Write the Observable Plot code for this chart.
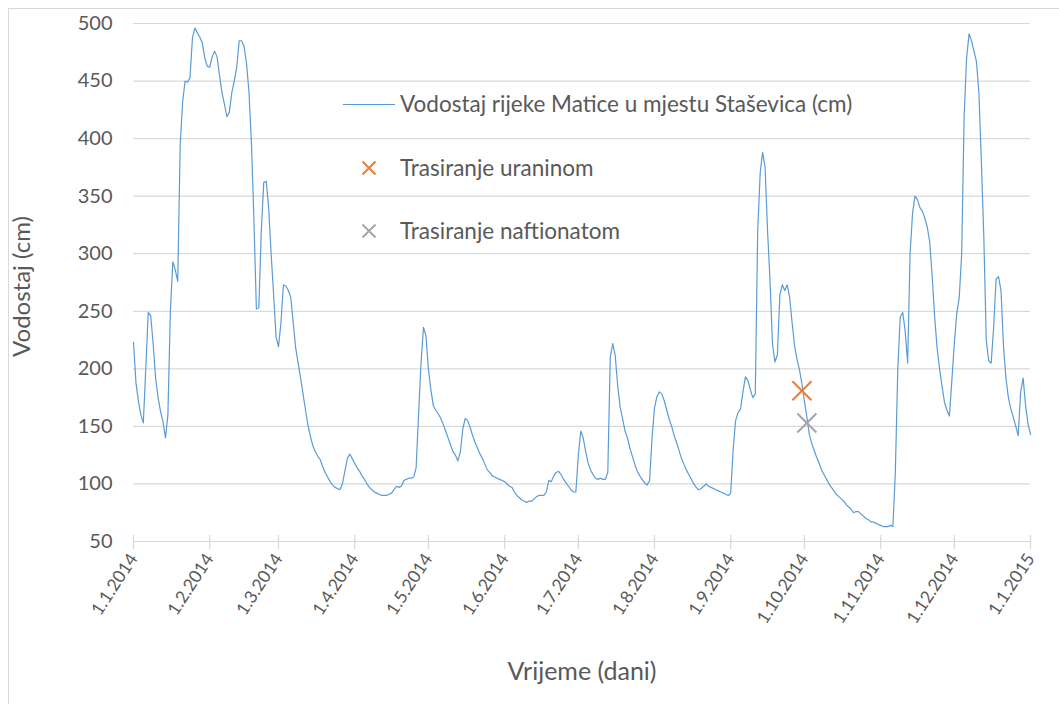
<!DOCTYPE html>
<html>
<head>
<meta charset="utf-8">
<script src="https://cdn.jsdelivr.net/npm/d3@7"></script>
<script src="https://cdn.jsdelivr.net/npm/@observablehq/plot@0.6"></script>
<style>
  html, body { margin: 0; padding: 0; background: #fff; overflow: hidden; }
  #wrap { position: relative; width: 1059px; height: 704px; overflow: hidden; font-family: Lato, "Open Sans", sans-serif; }
  #frame { position: absolute; left: 8px; top: 8px; width: 1100px; height: 800px; border: 1px solid #d9d9d9; box-sizing: border-box; }
  #chart { position: absolute; left: 0; top: 0; }
  #legend { position: absolute; left: 0; top: 0; pointer-events: none; }
</style>
</head>
<body>
<div id="wrap">
  <div id="frame"></div>
  <div id="chart"></div>
  <svg id="legend" width="1059" height="704"></svg>
</div>
<script>
// Daily water level (cm), river Matica at Staševica, 2014 — one array per month
const jan = [223,188,172,160,153,200,249,246,222,192,175,163,154,140,160,250,293,286,276,395,432,450,449,453,488,496,492,488,483,470,463];
const feb = [462,471,476,471,455,440,430,419,423,440,450,462,485,485,480,465,440,395,330,252,253,320,362,363,340,300,265,228];
const mar = [219,240,273,272,268,262,240,218,205,192,178,164,151,141,133,128,124,121,115,110,106,102,99,97,96,95,100,111,122,126,122];
const apr = [118,114,111,107,104,100,97,95,93,92,91,90,90,90,91,92,95,98,97,98,103,104,105,105,106,114,160,205,236,229];
const may = [200,182,168,164,161,157,152,146,140,134,128,125,120,128,148,157,155,149,142,136,131,126,122,117,112,110,107,106,105,104,103];
const jun = [102,100,98,97,93,90,88,86,85,84,85,85,87,89,90,90,90,93,103,102,107,110,111,108,104,101,98,95,93,93];
const jul = [125,146,140,128,118,112,108,105,104,105,104,104,110,210,222,212,186,167,157,146,140,131,124,117,111,107,104,101,99,103,140];
const aug = [166,176,180,178,172,164,156,150,142,136,129,122,117,112,108,104,100,97,95,96,98,100,98,97,96,95,94,93,92,91,90];
const sep = [92,130,155,162,165,180,193,190,182,175,178,320,370,388,375,320,277,222,206,212,264,273,268,273,262,240,220,208,199,187];
const oct = [172,158,143,135,129,123,118,112,108,104,100,97,94,91,89,87,85,82,80,78,75,76,76,74,72,70,69,67,67,66,65];
const nov = [64,63,63,63,64,63,110,200,245,249,233,205,300,335,350,347,340,337,331,323,310,280,245,218,200,185,171,164,159,190];
const dec = [222,248,262,300,420,470,491,485,476,467,440,380,315,225,207,205,236,278,280,268,220,192,175,165,158,150,142,180,192,168,152];
const jan2015 = [143];

// Tracer injections
const tracerNames = ["Trasiranje uraninom", "Trasiranje naftionatom"];
const tracerDates = ["2014-09-30", "2014-10-02"];
const tracerValues = [181, 153];
const tracerColors = ["#ed7d31", "#a5a5a5"];

const seriesName = "Vodostaj rijeke Matice u mjestu Staševica (cm)";
const yTicks = [50,100,150,200,250,300,350,400,450,500];
const monthTickDates = ["2014-01-01","2014-02-01","2014-03-01","2014-04-01","2014-05-01","2014-06-01","2014-07-01","2014-08-01","2014-09-01","2014-10-01","2014-11-01","2014-12-01","2015-01-01"];

// Build table
const monthBlocks = [[2014,0,jan],[2014,1,feb],[2014,2,mar],[2014,3,apr],[2014,4,may],[2014,5,jun],[2014,6,jul],[2014,7,aug],[2014,8,sep],[2014,9,oct],[2014,10,nov],[2014,11,dec],[2015,0,jan2015]];
const series = [];
for (const [yr, m, arr] of monthBlocks) arr.forEach((v, i) => series.push({date: new Date(Date.UTC(yr, m, i + 1)), value: v}));
const tracers = tracerNames.map((n, i) => ({name: n, date: new Date(tracerDates[i] + "T00:00:00Z"), value: tracerValues[i], color: tracerColors[i]}));
const monthTicks = monthTickDates.map(s => new Date(s + "T00:00:00Z"));
const fmt = d => `${d.getUTCDate()}.${d.getUTCMonth() + 1}.${d.getUTCFullYear()}`;

const textColor = "#595959";
const gridColor = "#d9d9d9";

const chart = Plot.plot({
  width: 1059,
  height: 704,
  marginLeft: 133,
  marginRight: 29,
  marginTop: 23,
  marginBottom: 163,
  style: {fontFamily: "Lato, 'Open Sans', sans-serif", color: textColor, background: "transparent", overflow: "visible"},
  x: {type: "utc", domain: [monthTicks[0], monthTicks[monthTicks.length - 1]]},
  y: {domain: [50, 500]},
  marks: [
    Plot.gridY(yTicks, {stroke: gridColor, strokeOpacity: 1, strokeWidth: 1.2}),
    Plot.axisY(yTicks, {tickSize: 0, tickPadding: 21, fontSize: 20, label: null}),
    Plot.axisX(monthTicks, {tickSize: 14, dy: -6, stroke: gridColor, strokeOpacity: 1, strokeWidth: 1.3, tickFormat: () => "", label: null}),
    Plot.axisX(monthTicks, {tickSize: 0, tickPadding: 14, tickRotate: -57, fontSize: 17.5, tickFormat: fmt, label: null}),
    Plot.line(series, {x: "date", y: "value", stroke: "#5b9bd5", strokeWidth: 1.2}),
    Plot.dot(tracers, {x: "date", y: "value", symbol: "times", r: 8.7, stroke: "color", strokeWidth: 2}),
    Plot.text(["Vodostaj (cm)"], {frameAnchor: "left", textAnchor: "middle", dx: -111, dy: 4, rotate: -90, fontSize: 24, fill: textColor}),
    Plot.text(["Vrijeme (dani)"], {frameAnchor: "bottom", textAnchor: "middle", dy: 138, fontSize: 25, fill: textColor})
  ]
});
document.getElementById("chart").appendChild(chart);

// Legend (inside plot area)
const lg = d3.select("#legend");
const rows = [
  {kind: "line", label: seriesName, color: "#5b9bd5", y: 104},
  {kind: "x", label: tracerNames[0], color: tracerColors[0], y: 168},
  {kind: "x", label: tracerNames[1], color: tracerColors[1], y: 231}
];
for (const r of rows) {
  if (r.kind === "line") {
    lg.append("line").attr("x1", 343).attr("x2", 395).attr("y1", r.y + 0.5).attr("y2", r.y + 0.5).attr("stroke", r.color).attr("stroke-width", 1.2);
  } else {
    const cx = 369, h = 6.5;
    lg.append("path").attr("d", `M${cx - h},${r.y - h}L${cx + h},${r.y + h}M${cx - h},${r.y + h}L${cx + h},${r.y - h}`).attr("stroke", r.color).attr("stroke-width", 2).attr("fill", "none");
  }
  lg.append("text").attr("x", 400).attr("y", r.y).attr("dy", "0.35em").attr("font-size", 22.5).attr("fill", textColor).attr("font-family", "Lato, 'Open Sans', sans-serif").text(r.label);
}
</script>
</body>
</html>
